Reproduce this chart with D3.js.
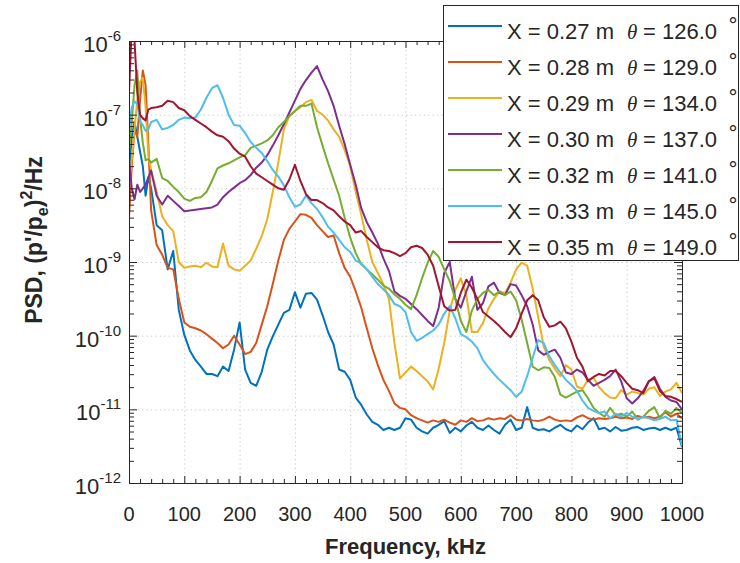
<!DOCTYPE html>
<html lang="en">
<head>
<meta charset="UTF-8">
<title>PSD spectra</title>
<script src="https://d3js.org/d3.v7.min.js"></script>
<style>
  body { margin: 0; background: #fff; }
  text { font-family: "Liberation Sans", Arial, Helvetica, sans-serif; fill: #262626; }
</style>
</head>
<body>
<svg width="740" height="563"></svg>
<script>
// frequency samples, kHz
const freqKHz = [0, 5, 10, 15, 20, 25, 30, 35, 40,
  50, 60, 70, 80, 90, 100, 110, 120, 130, 140,
  150, 160, 170, 180, 190, 200, 210, 220, 230, 240,
  250, 260, 270, 280, 290, 300, 310, 320, 330, 340,
  350, 360, 370, 380, 390, 400, 410, 420, 430, 440,
  450, 460, 470, 480, 490, 500, 510, 520, 530, 540,
  550, 560, 570, 580, 590, 600, 610, 620, 630, 640,
  650, 660, 670, 680, 690, 700, 710, 720, 730, 740,
  750, 760, 770, 780, 790, 800, 810, 820, 830, 840,
  850, 860, 870, 880, 890, 900, 910, 920, 930, 940,
  950, 960, 970, 980, 990, 1000];

// log10 of PSD
const psdLogX027 = [-7.8, -7.3, -7.1, -7.3, -7.5, -7.7, -8.1, -7.85, -8.0,
  -8.5, -8.57, -9.1, -8.85, -9.65, -9.99, -10.2, -10.33, -10.42, -10.52,
  -10.52, -10.55, -10.42, -10.48, -10.19, -9.82, -10.46, -10.64, -10.68, -10.49,
  -10.19, -10.01, -9.85, -9.69, -9.65, -9.41, -9.62, -9.43, -9.42, -9.51,
  -9.72, -9.95, -10.12, -10.46, -10.49, -10.6, -10.84, -10.94, -11.07, -11.17,
  -11.21, -11.28, -11.25, -11.28, -11.25, -11.12, -11.14, -11.25, -11.3, -11.33,
  -11.25, -11.21, -11.16, -11.32, -11.25, -11.3, -11.22, -11.17, -11.25, -11.28,
  -11.22, -11.28, -11.33, -11.21, -11.14, -11.28, -11.25, -10.97, -11.25, -11.28,
  -11.27, -11.3, -11.25, -11.21, -11.27, -11.3, -11.22, -11.27, -11.18, -11.12,
  -11.27, -11.25, -11.3, -11.24, -11.29, -11.28, -11.25, -11.24, -11.28, -11.26,
  -11.25, -11.28, -11.25, -11.28, -11.25, -11.51];

const psdLogX028 = [-8.4, -7.7, -7.2, -7.3, -6.8, -6.4, -6.6, -7.4, -8.3,
  -8.77, -8.9, -9.08, -9.1, -9.5, -9.82, -9.88, -9.9, -9.93, -9.98,
  -10.04, -10.1, -10.17, -10.12, -10.0, -10.12, -10.25, -10.22, -10.1, -9.85,
  -9.6, -9.3, -8.98, -8.7, -8.55, -8.45, -8.35, -8.36, -8.4, -8.5,
  -8.58, -8.66, -8.64, -8.88, -9.08, -9.2, -9.4, -9.62, -9.9, -10.17,
  -10.4, -10.6, -10.75, -10.92, -10.98, -11.0, -11.08, -11.12, -11.15, -11.18,
  -11.15, -11.17, -11.14, -11.18, -11.21, -11.15, -11.17, -11.12, -11.16, -11.15,
  -11.12, -11.14, -11.12, -11.13, -11.08, -11.14, -11.15, -11.13, -11.15, -11.16,
  -11.14, -11.1, -11.14, -11.16, -11.15, -11.16, -11.11, -11.08, -11.12, -11.14,
  -11.12, -11.13, -11.12, -11.1, -11.12, -11.11, -11.13, -11.09, -11.11, -11.1,
  -11.12, -11.1, -11.04, -11.1, -11.06, -11.12];

const psdLogX029 = [-8.0, -7.6, -7.2, -6.8, -6.55, -6.5, -6.9, -7.55, -7.75,
  -8.05, -8.38, -8.5, -8.58, -9.0, -9.08, -9.06, -9.05, -9.07, -9.01,
  -9.06, -9.07, -8.75, -9.05, -9.1, -9.12, -9.05, -8.98, -8.82, -8.65,
  -8.42, -8.05, -7.65, -7.2, -7.02, -6.95, -6.9, -6.83, -6.8, -6.95,
  -7.0, -7.08, -7.2, -7.3, -7.48, -7.7, -8.05, -8.36, -8.7, -9.0,
  -9.15, -9.3, -9.5, -10.1, -10.58, -10.5, -10.42, -10.48, -10.55, -10.62,
  -10.73, -10.45, -10.1, -9.66, -9.38, -9.22, -9.45, -9.95, -9.95, -9.83,
  -9.63, -9.5, -9.4, -9.42, -9.28, -9.1, -9.01, -9.05, -9.36, -9.75,
  -10.15, -10.33, -10.45, -10.55, -10.4, -10.46, -10.69, -10.72, -10.6, -10.57,
  -10.7, -10.78, -10.84, -10.85, -10.74, -10.8, -10.76, -10.78, -10.8, -10.72,
  -10.7, -10.82, -10.76, -10.73, -10.64, -10.78];

const psdLogX030 = [-7.6, -8.0, -8.15, -7.95, -8.05, -8.0, -7.95, -7.85, -7.76,
  -8.1, -8.22, -8.1, -8.17, -8.24, -8.31, -8.3, -8.29, -8.28, -8.27,
  -8.26, -8.22, -8.12, -8.05, -7.99, -7.93, -7.89, -7.82, -7.72, -7.65,
  -7.55, -7.42, -7.28, -7.13, -6.97, -6.81, -6.65, -6.53, -6.43, -6.34,
  -6.52, -6.68, -6.88, -7.15, -7.4, -7.68, -7.95, -8.27, -8.46, -8.6,
  -8.75, -8.95, -9.12, -9.4, -9.46, -9.5, -9.57, -9.64, -9.72, -9.8,
  -9.87, -9.62, -9.15, -9.0, -9.5, -9.62, -9.4, -9.2, -9.65, -9.56,
  -9.33, -9.28, -9.42, -9.45, -9.3, -9.32, -9.45, -9.6, -9.85, -10.2,
  -10.26, -10.22, -10.19, -10.3, -10.5, -10.52, -10.46, -10.5, -10.6, -10.68,
  -10.64, -10.6, -10.55, -10.46, -10.62, -10.85, -10.92, -10.85, -10.75, -10.62,
  -10.56, -10.72, -10.83, -10.88, -10.9, -11.0];

const psdLogX032 = [-7.5, -7.1, -6.6, -6.4, -7.05, -7.38, -7.62, -7.6, -7.65,
  -7.6, -7.86, -7.9, -7.98, -8.05, -8.14, -8.17, -8.13, -8.12, -8.05,
  -7.9, -7.73, -7.69, -7.66, -7.62, -7.58, -7.55, -7.45, -7.42, -7.39,
  -7.35, -7.28, -7.17, -7.1, -7.02, -6.95, -6.88, -6.88, -6.85, -7.17,
  -7.42, -7.66, -7.88, -8.1, -8.4, -8.67, -8.88, -9.03, -9.1, -9.17,
  -9.24, -9.32, -9.36, -9.44, -9.5, -9.58, -9.64, -9.45, -9.22, -9.01,
  -8.85, -8.93, -9.1, -9.26, -9.5, -9.8, -9.95, -9.66, -9.5, -9.42,
  -9.38, -9.45, -9.4, -9.45, -9.4, -9.52, -9.78, -10.1, -10.42, -10.47,
  -10.43, -10.44, -10.56, -10.8, -10.84, -10.8, -10.76, -10.74, -10.85, -10.98,
  -11.05, -11.1, -10.98, -11.08, -11.06, -11.1, -11.03, -11.14, -11.1, -11.02,
  -10.97, -11.12, -11.02, -11.06, -10.98, -11.05];

const psdLogX033 = [-7.2, -6.9, -6.82, -6.85, -7.1, -7.14, -7.22, -7.2, -7.1,
  -7.07, -7.2, -7.18, -7.14, -7.07, -7.04, -7.05, -7.04, -6.93, -6.77,
  -6.64, -6.6, -6.77, -7.0, -7.14, -7.15, -7.25, -7.37, -7.45, -7.52,
  -7.63, -7.75, -7.84, -7.96, -8.12, -8.25, -8.22, -8.1, -8.2, -8.28,
  -8.39, -8.52, -8.6, -8.7, -8.8, -8.86, -8.98, -9.02, -9.1, -9.2,
  -9.3, -9.37, -9.45, -9.57, -9.6, -9.68, -9.95, -10.07, -10.03, -9.98,
  -9.93, -9.85, -9.7, -9.6, -9.76, -9.98, -10.02, -10.08, -10.17, -10.33,
  -10.43, -10.52, -10.6, -10.67, -10.74, -10.83, -10.76, -10.55, -10.3, -10.06,
  -10.1, -10.28, -10.4, -10.5, -10.6, -10.67, -10.75, -10.88, -10.98, -11.02,
  -11.05, -11.03, -11.12, -11.06, -11.1, -11.05, -11.1, -11.13, -11.1, -11.12,
  -11.15, -11.13, -11.1, -11.15, -11.14, -11.5];

const psdLogX035 = [-6.7, -5.8, -6.0, -6.7, -7.0, -7.05, -7.08, -6.93, -6.91,
  -6.9, -6.88, -6.81, -6.83, -6.91, -6.94, -7.02, -7.07, -7.12, -7.17,
  -7.23, -7.28, -7.3, -7.36, -7.46, -7.53, -7.57, -7.7, -7.8, -7.85,
  -7.9, -7.95, -8.0, -8.02, -7.88, -7.68, -7.9, -8.08, -8.16, -8.16,
  -8.2, -8.26, -8.3, -8.38, -8.45, -8.5, -8.6, -8.58, -8.66, -8.73,
  -8.8, -8.84, -8.85, -8.88, -8.92, -8.88, -8.8, -8.78, -8.81, -8.9,
  -9.05, -9.33, -9.6, -9.66, -9.65, -9.42, -9.24, -9.35, -9.5, -9.68,
  -9.74, -9.8, -9.87, -9.95, -10.02, -9.9, -9.7, -9.52, -9.45, -9.52,
  -9.75, -9.88, -9.86, -9.81, -9.9, -10.08, -10.3, -10.42, -10.62, -10.56,
  -10.52, -10.54, -10.48, -10.48, -10.55, -10.64, -10.72, -10.74, -10.78, -10.62,
  -10.58, -10.75, -10.82, -10.83, -10.86, -10.9];

const seriesX = ["0.27", "0.28", "0.29", "0.30", "0.32", "0.33", "0.35"];
const seriesTheta = ["126.0", "129.0", "134.0", "137.0", "141.0", "145.0", "149.0"];
const seriesLogs = [psdLogX027, psdLogX028, psdLogX029, psdLogX030, psdLogX032, psdLogX033, psdLogX035];

const xTickLabels = [0, 100, 200, 300, 400, 500, 600, 700, 800, 900, 1000];
const yTickExponents = [-12, -11, -10, -9, -8, -7, -6];

// matlab default line colours
const colors = ["#0072BD", "#D95319", "#EDB120", "#7E2F8E", "#77AC30", "#4DBEEE", "#A2142F"];

const svg = d3.select("svg");
const axisColor = "#262626";

const x = d3.scaleLinear().domain([0, 1000]).range([129, 682]);
const y = d3.scaleLog().domain([1e-12, 1e-6]).range([483, 41]);

const plotL = x(0), plotR = x(1000), plotT = y(1e-6), plotB = y(1e-12);

svg.append("rect").attr("x", plotL).attr("y", plotT)
    .attr("width", plotR - plotL).attr("height", plotB - plotT).attr("fill", "#fff");

// dotted grid
const grid = svg.append("g").attr("stroke", "#c6c6c6").attr("stroke-width", 1)
    .attr("stroke-dasharray", "1.2,3.2");
xTickLabels.slice(1, -1).forEach(v => {
    grid.append("line").attr("x1", x(v) + 0.5).attr("x2", x(v) + 0.5)
        .attr("y1", plotT).attr("y2", plotB);
});
yTickExponents.slice(1, -1).forEach(e => {
    grid.append("line").attr("y1", y(10 ** e) + 0.5).attr("y2", y(10 ** e) + 0.5)
        .attr("x1", plotL).attr("x2", plotR);
});

// spectra
svg.append("clipPath").attr("id", "plotClip")
    .append("rect").attr("x", plotL).attr("y", plotT)
    .attr("width", plotR - plotL).attr("height", plotB - plotT);

const line = d3.line()
    .x(d => x(d[0]))
    .y(d => y(10 ** d[1]));

const lines = svg.append("g").attr("clip-path", "url(#plotClip)");
seriesLogs.forEach((vals, i) => {
    lines.append("path")
        .datum(freqKHz.map((f, k) => [f, vals[k]]))
        .attr("d", line)
        .attr("fill", "none")
        .attr("stroke", colors[i])
        .attr("stroke-width", 2)
        .attr("stroke-linejoin", "round");
});

// axes: ticks inward on all four sides
const xMinor = d3.range(0, 1001, 20).filter(v => v % 100 !== 0);
const yMinor = [];
yTickExponents.slice(0, -1).forEach(e => {
    for (let m = 2; m <= 9; m++) yMinor.push(m * 10 ** e);
});

function styleAxis(g) {
    g.selectAll("path, line").attr("stroke", axisColor).attr("stroke-width", 1);
    g.selectAll("text").remove();
}

svg.append("g").attr("transform", `translate(0,${plotB})`)
    .call(d3.axisBottom(x).tickValues(xTickLabels).tickSize(-7).tickSizeOuter(0)).call(styleAxis);
svg.append("g").attr("transform", `translate(0,${plotB})`)
    .call(d3.axisBottom(x).tickValues(xMinor).tickSize(-4).tickSizeOuter(0)).call(styleAxis);
svg.append("g").attr("transform", `translate(0,${plotT})`)
    .call(d3.axisTop(x).tickValues(xTickLabels).tickSize(-7).tickSizeOuter(0)).call(styleAxis);
svg.append("g").attr("transform", `translate(0,${plotT})`)
    .call(d3.axisTop(x).tickValues(xMinor).tickSize(-4).tickSizeOuter(0)).call(styleAxis);

const yMajor = yTickExponents.map(e => 10 ** e);
svg.append("g").attr("transform", `translate(${plotL},0)`)
    .call(d3.axisLeft(y).tickValues(yMajor).tickSize(-8).tickSizeOuter(0)).call(styleAxis);
svg.append("g").attr("transform", `translate(${plotL},0)`)
    .call(d3.axisLeft(y).tickValues(yMinor).tickSize(-5).tickSizeOuter(0)).call(styleAxis);
svg.append("g").attr("transform", `translate(${plotR},0)`)
    .call(d3.axisRight(y).tickValues(yMajor).tickSize(-8).tickSizeOuter(0)).call(styleAxis);
svg.append("g").attr("transform", `translate(${plotR},0)`)
    .call(d3.axisRight(y).tickValues(yMinor).tickSize(-5).tickSizeOuter(0)).call(styleAxis);

// tick labels
svg.append("g").selectAll("text").data(xTickLabels).join("text")
    .attr("x", d => x(d))
    .attr("y", 521)
    .attr("text-anchor", "middle")
    .attr("font-size", 20)
    .text(d => d);

const yLab = svg.append("g").selectAll("text").data(yTickExponents).join("text")
    .attr("x", 121)
    .attr("y", d => y(10 ** d) + 11)
    .attr("text-anchor", "end")
    .attr("font-size", 22);
yLab.append("tspan").text("10");
yLab.append("tspan").attr("dy", -11).attr("font-size", 15).text(d => d);

// axis titles
svg.append("text")
    .attr("x", (plotL + plotR) / 2).attr("y", 554)
    .attr("text-anchor", "middle")
    .attr("font-size", 22).attr("font-weight", "bold")
    .text("Frequency, kHz");

const yTitle = svg.append("text")
    .attr("transform", "translate(42,240) rotate(-90)")
    .attr("text-anchor", "middle")
    .attr("font-size", 23).attr("font-weight", "bold");
yTitle.append("tspan").text("PSD, (p'/p");
yTitle.append("tspan").attr("dy", 6).attr("font-size", 16).text("e");
yTitle.append("tspan").attr("dy", -6).text(")");
yTitle.append("tspan").attr("dy", -10).attr("font-size", 16).text("2");
yTitle.append("tspan").attr("dy", 10).text("/Hz");

// legend
const legend = svg.append("g");
legend.append("rect")
    .attr("x", 443.5).attr("y", 5.5).attr("width", 295).attr("height", 255)
    .attr("fill", "#fff").attr("stroke", axisColor).attr("stroke-width", 1);

seriesX.forEach((xv, i) => {
    const ly = 26 + i * 36;
    const by = 39 + i * 36;
    legend.append("line")
        .attr("x1", 448).attr("x2", 502).attr("y1", ly).attr("y2", ly)
        .attr("stroke", colors[i]).attr("stroke-width", 2);
    legend.append("text").attr("x", 507).attr("y", by).attr("font-size", 22)
        .text(`X = ${xv} m`);
    legend.append("text").attr("x", 627).attr("y", by).attr("font-size", 21)
        .attr("font-style", "italic")
        .style("font-family", '"Liberation Serif", "Times New Roman", serif')
        .text("\u03B8");
    legend.append("text").attr("x", 643).attr("y", by).attr("font-size", 22)
        .text(`= ${seriesTheta[i]}`);
    legend.append("text").attr("x", 728).attr("y", by - 7).attr("font-size", 20)
        .style("font-family", '"DejaVu Sans", sans-serif')
        .text("\u00B0");
});
</script>
</body>
</html>
